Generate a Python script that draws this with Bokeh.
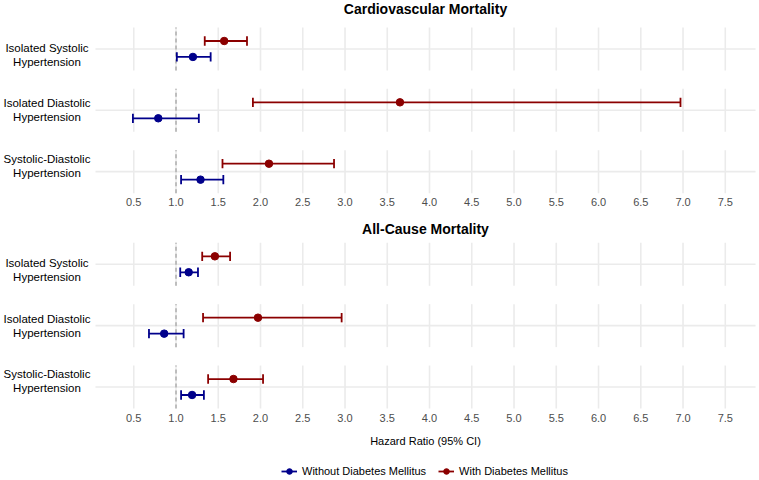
from bokeh.plotting import figure
from bokeh.models import Range1d, Legend, LegendItem
from bokeh.core.properties import value
from bokeh.embed import file_html
from bokeh.resources import INLINE

# Hypertension subtypes (top to bottom within each panel) and their labels
categories = ["Isolated Systolic Hypertension",
              "Isolated Diastolic Hypertension",
              "Systolic-Diastolic Hypertension"]
label_line1 = ["Isolated Systolic", "Isolated Diastolic", "Systolic-Diastolic"]
label_line2 = ["Hypertension", "Hypertension", "Hypertension"]

panel_titles = ["Cardiovascular Mortality", "All-Cause Mortality"]
x_axis_title = "Hazard Ratio (95% CI)"

# Cardiovascular mortality: hazard ratios with 95% CI
cvd_hr_no = [1.20, 0.79, 1.29]
cvd_lo_no = [1.01, 0.49, 1.06]
cvd_hi_no = [1.41, 1.27, 1.56]
cvd_hr_dm = [1.57, 3.65, 2.10]
cvd_lo_dm = [1.34, 1.91, 1.55]
cvd_hi_dm = [1.84, 6.97, 2.87]

# All-cause mortality: hazard ratios with 95% CI
all_hr_no = [1.15, 0.86, 1.19]
all_lo_no = [1.05, 0.68, 1.06]
all_hi_no = [1.26, 1.09, 1.33]
all_hr_dm = [1.46, 1.97, 1.68]
all_lo_dm = [1.31, 1.32, 1.38]
all_hi_dm = [1.64, 2.96, 2.03]

x_ticks = [0.5, 1.0, 1.5, 2.0, 2.5, 3.0, 3.5, 4.0, 4.5, 5.0, 5.5, 6.0, 6.5, 7.0, 7.5]
x_tick_labels = ["%.1f" % t for t in x_ticks]
reference_hr = 1.0

series_names = ["Without Diabetes Mellitus", "With Diabetes Mellitus"]
series_colors = ["#00008B", "#8B0000"]

FONT = "Liberation Sans"
GRID = "#EBEBEB"
TICK_COLOR = "#4D4D4D"

# layout constants (data units; one row step = one category strip)
X_MIN, X_MAX = -1.077, 7.905      # whole canvas width
PANEL_X0, PANEL_X1 = 0.047, 7.858  # plotting strip extent
Y_MIN, Y_MAX = -1.524, 6.300      # whole canvas height
HALF = 0.35          # half height of each category strip
DODGE = 0.13         # vertical offset between the two groups
CAP = 0.076          # half height of the CI end caps
PANEL_SHIFT = 3.51   # vertical distance between the two panels
TITLE_GAP = [0.294, 0.218]
LABEL_X = -0.527     # centre of category labels
LABEL_SHIFT = [-0.1, 0.0, 0.1]
LINE_GAP = 0.114
TICK_GAP = 0.502     # from the last strip centre down to the tick labels
AXIS_TITLE_Y = -0.888
LW = 1.8

n = len(categories)
base = [n - 1 - i for i in range(n)]              # first category on top
panel_y = [[b + PANEL_SHIFT for b in base], base]  # cardiovascular above, all-cause below
all_centres = panel_y[0] + panel_y[1]

p = figure(width=759, height=480, output_backend="svg", toolbar_location=None,
           x_range=Range1d(X_MIN, X_MAX), y_range=Range1d(Y_MIN, Y_MAX),
           min_border=0)
p.outline_line_color = None
p.xaxis.visible = False
p.yaxis.visible = False
p.grid.visible = False

# full-width line through each category strip
p.segment(x0=[PANEL_X0] * len(all_centres), y0=all_centres,
          x1=[PANEL_X1] * len(all_centres), y1=all_centres,
          line_color=GRID, line_width=1.6)

# vertical grid lines, broken between strips
gx, gy0, gy1 = [], [], []
for y in all_centres:
    for t in x_ticks:
        gx.append(t)
        gy0.append(y - HALF)
        gy1.append(y + HALF)
p.segment(x0=gx, y0=gy0, x1=gx, y1=gy1, line_color=GRID, line_width=1.6)

# dashed reference line at HR = 1
p.segment(x0=[reference_hr] * len(all_centres), y0=[y - HALF for y in all_centres],
          x1=[reference_hr] * len(all_centres), y1=[y + HALF for y in all_centres],
          line_color="#A3A3A3", line_width=1.3, line_dash="4 3")

panels = [
    [(cvd_hr_no, cvd_lo_no, cvd_hi_no), (cvd_hr_dm, cvd_lo_dm, cvd_hi_dm)],
    [(all_hr_no, all_lo_no, all_hi_no), (all_hr_dm, all_lo_dm, all_hi_dm)],
]

legend_renderers = []
for k, (ypos, groups) in enumerate(zip(panel_y, panels)):
    for (hr, lo, hi), color, off in zip(groups, series_colors, [-DODGE, DODGE]):
        yy = [y + off for y in ypos]
        bar = p.segment(x0=lo, y0=yy, x1=hi, y1=yy, line_color=color, line_width=LW)
        p.segment(x0=lo, y0=[y - CAP for y in yy], x1=lo, y1=[y + CAP for y in yy],
                  line_color=color, line_width=LW)
        p.segment(x0=hi, y0=[y - CAP for y in yy], x1=hi, y1=[y + CAP for y in yy],
                  line_color=color, line_width=LW)
        pt = p.scatter(x=hr, y=yy, size=7.5, fill_color=color, line_color=color)
        if len(legend_renderers) < 2:
            legend_renderers.append([bar, pt])

    # panel title
    p.text(x=[(PANEL_X0 + PANEL_X1) / 2], y=[ypos[0] + HALF + TITLE_GAP[k]],
           text=[panel_titles[k]],
           text_font=value(FONT), text_font_size="14px", text_font_style="bold",
           text_color="black", text_align="center", text_baseline="middle")

    # tick labels under the panel
    p.text(x=x_ticks, y=[ypos[-1] - TICK_GAP] * len(x_ticks), text=x_tick_labels,
           text_font=value(FONT), text_font_size="11px", text_color=TICK_COLOR,
           text_align="center", text_baseline="middle")

    # two-line category labels, each line centred
    p.text(x=[LABEL_X] * n, y=[y + s + LINE_GAP for y, s in zip(ypos, LABEL_SHIFT)],
           text=label_line1, text_font=value(FONT), text_font_size="11.5px",
           text_color="black", text_align="center", text_baseline="middle")
    p.text(x=[LABEL_X] * n, y=[y + s - LINE_GAP for y, s in zip(ypos, LABEL_SHIFT)],
           text=label_line2, text_font=value(FONT), text_font_size="11.5px",
           text_color="black", text_align="center", text_baseline="middle")

# x axis title
p.text(x=[(PANEL_X0 + PANEL_X1) / 2], y=[AXIS_TITLE_Y], text=[x_axis_title],
       text_font=value(FONT), text_font_size="11px", text_color="black",
       text_align="center", text_baseline="middle")

legend = Legend(items=[LegendItem(label=name, renderers=r)
                       for name, r in zip(series_names, legend_renderers)],
                orientation="horizontal", location=(281, 2),
                label_text_font=FONT, label_text_font_size="11px", label_text_color="black",
                glyph_width=16, glyph_height=14, label_height=14, label_standoff=5,
                spacing=12, padding=2, margin=0,
                border_line_color=None, background_fill_alpha=0)
p.add_layout(legend, "center")

open("out.html", "w").write(file_html(p, INLINE))
